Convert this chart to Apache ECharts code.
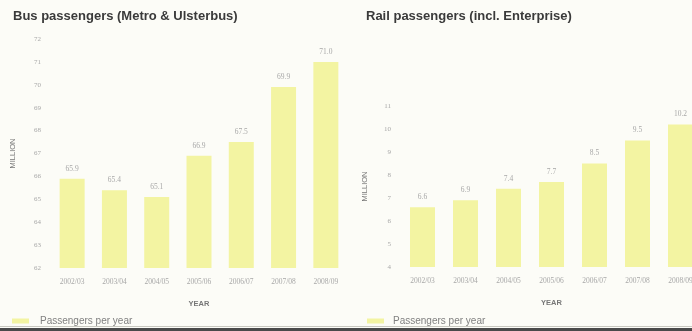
<!DOCTYPE html>
<html>
<head>
<meta charset="utf-8">
<script src="https://cdn.jsdelivr.net/npm/echarts@6/dist/echarts.min.js"></script>
<style>
html,body{margin:0;padding:0;background:#fcfcf7;}
#c{width:692px;height:331px;}
</style>
</head>
<body>
<div id="c"></div>
<script>
const years = ['2002/03','2003/04','2004/05','2005/06','2006/07','2007/08','2008/09'];
const busValues = [65.9, 65.4, 65.1, 66.9, 67.5, 69.9, 71.0];
const railValues = [6.6, 6.9, 7.4, 7.7, 8.5, 9.5, 10.2];
const busTitle = 'Bus passengers (Metro & Ulsterbus)';
const railTitle = 'Rail passengers (incl. Enterprise)';
const seriesName = 'Passengers per year';

const barColor = '#f3f4a2';
const lblColor = '#a8a8a8';
const chart = echarts.init(document.getElementById('c'), null, {renderer:'canvas'});

function xAx(gi){
  return {
    type:'category', gridIndex:gi, data:years,
    axisLine:{show:false}, axisTick:{show:false},
    axisLabel:{color:lblColor, fontSize:7.5, margin:10, fontFamily:'Liberation Serif'},
    name:'YEAR', nameLocation:'middle', nameGap:32,
    nameTextStyle:{color:'#777', fontSize:7.5, fontWeight:'bold', fontFamily:'Liberation Sans'}
  };
}
function yAx(gi, min, max, gap){
  return {
    type:'value', gridIndex:gi, min:min, max:max, interval:1,
    axisLine:{show:false}, axisTick:{show:false}, splitLine:{show:false},
    axisLabel:{color:lblColor, fontSize:7, margin:10, fontFamily:'Liberation Serif'},
    name:'MILLION', nameLocation:'middle', nameGap:gap, nameRotate:90,
    nameTextStyle:{color:'#777', fontSize:7.5, fontFamily:'Liberation Sans'}
  };
}
function ser(i, data){
  return {
    type:'bar', name:seriesName, xAxisIndex:i, yAxisIndex:i, data:data,
    barWidth:25, itemStyle:{color:barColor},
    label:{show:true, position:'top', distance:6, color:lblColor, fontSize:7.5,
      fontFamily:'Liberation Serif', formatter:p=>p.value.toFixed(1)}
  };
}
chart.setOption({
  backgroundColor:'#fcfcf7',
  animation:false,
  title:[
    {text:busTitle, left:8, top:5, textStyle:{fontSize:13, fontWeight:'bold', color:'#3a3a3a', fontFamily:'Liberation Sans'}},
    {text:railTitle, left:361, top:5, textStyle:{fontSize:13, fontWeight:'bold', color:'#3a3a3a', fontFamily:'Liberation Sans'}}
  ],
  legend:[
    {data:[seriesName], left:7, top:311, itemWidth:17, itemHeight:5, itemGap:8, icon:'rect',
     textStyle:{color:'#808080', fontSize:10, padding:[0,0,0,6], fontFamily:'Liberation Sans'}},
    {data:[seriesName], left:362, top:311, itemWidth:17, itemHeight:5, itemGap:8, icon:'rect',
     textStyle:{color:'#808080', fontSize:10, padding:[0,0,0,4], fontFamily:'Liberation Sans'}}
  ],
  grid:[
    {left:51, width:296, top:39, bottom:63, outerBoundsMode:'none'},
    {left:401, width:301, top:106, bottom:64, outerBoundsMode:'none'}
  ],
  xAxis:[xAx(0), xAx(1)],
  yAxis:[yAx(0, 62, 72, 34), yAx(1, 4, 11, 32)],
  series:[ser(0, busValues), ser(1, railValues)],
  graphic:[
    {type:'rect', left:0, top:328, shape:{width:692, height:3}, style:{fill:'#4a4a4a'}},
    {type:'rect', left:0, top:326, shape:{width:692, height:1}, style:{fill:'#c8c8c0'}}
  ]
});
</script>
</body>
</html>
